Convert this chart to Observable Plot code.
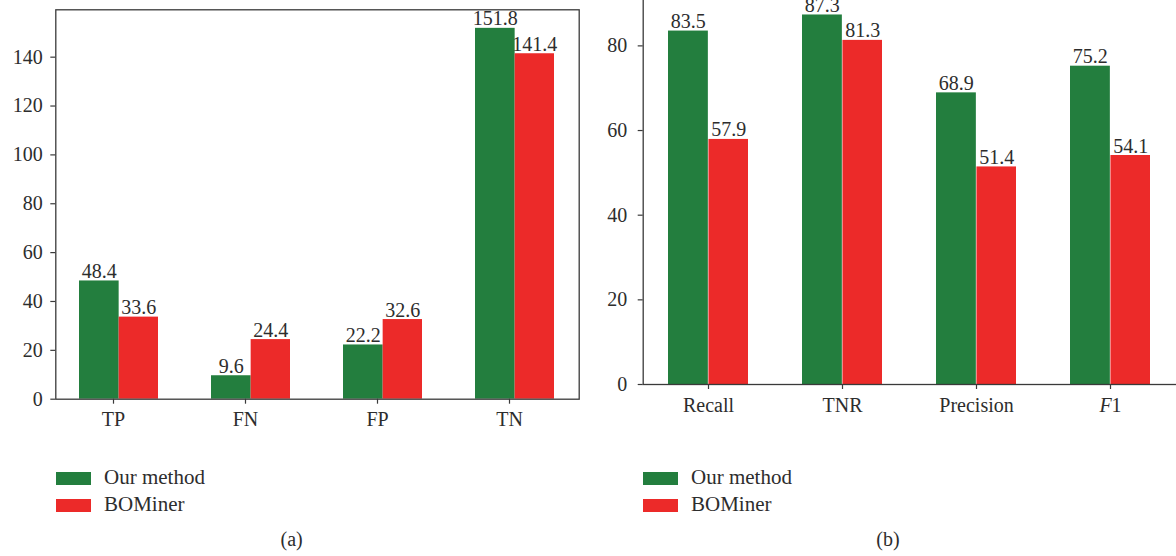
<!DOCTYPE html>
<html><head><meta charset="utf-8">
<script src="https://cdn.jsdelivr.net/npm/d3@7"></script>
<script src="https://cdn.jsdelivr.net/npm/@observablehq/plot@0.6"></script>
<style>
html,body{margin:0;padding:0;background:#fff;overflow:hidden;}
#root{position:relative;width:1176px;height:556px;overflow:hidden;font-family:"Liberation Serif",serif;color:#2d2d2d;}
.panel{position:absolute;}
.sw{position:absolute;width:35px;height:13px;}
.lt{position:absolute;font-size:21px;line-height:21px;white-space:nowrap;}
.cap{position:absolute;font-size:20px;line-height:20px;transform:translateX(-50%);}
</style></head><body><div id="root"></div>
<script>
const series = ["Our method", "BOMiner"];
const seriesColors = ["#237e3e", "#ec2a29"];
const catsA = ["TP", "FN", "FP", "TN"];
const ourA = [48.4, 9.6, 22.2, 151.8];
const bomA = [33.6, 24.4, 32.6, 141.4];
const ticksA = [0, 20, 40, 60, 80, 100, 120, 140];
const catsB = ["Recall", "TNR", "Precision", "F1"];
const ourB = [83.5, 87.3, 68.9, 75.2];
const bomB = [57.9, 81.3, 51.4, 54.1];
const ticksB = [0, 20, 40, 60, 80];
const captions = ["(a)", "(b)"];

function panel(o) {
  const rows = [];
  o.cats.forEach((c, i) => {
    rows.push({cat: c, series: series[0], value: o.our[i]});
    rows.push({cat: c, series: series[1], value: o.bom[i]});
  });
  const pi = 0.4, po = 0.18;
  const W = o.width - o.marginLeft - o.marginRight;
  const step = W / (o.cats.length - pi + 2 * po);
  const half = step * (1 - pi) / 2;
  const ymax = d3.max(rows, d => d.value) * 1.05;
  const r0 = rows.filter(d => d.series === series[0]);
  const r1 = rows.filter(d => d.series === series[1]);
  const ink = "#2d2d2d";
  const marks = [
    Plot.barY(r0, {x: "cat", y: "value", fill: seriesColors[0], insetRight: half - 0.3}),
    Plot.barY(r1, {x: "cat", y: "value", fill: seriesColors[1], insetLeft: half}),
    Plot.text(r0, {x: "cat", y: "value", text: d => d.value.toFixed(1), dx: -half / 2, dy: -3, lineAnchor: "bottom", fill: ink, fontSize: 20}),
    Plot.text(r1, {x: "cat", y: "value", text: d => d.value.toFixed(1), dx: half / 2, dy: -3, lineAnchor: "bottom", fill: ink, fontSize: 20}),
    Plot.axisY({ticks: o.ticks, tickSize: 5, tickPadding: o.tickPadY, label: null, fontSize: 20, stroke: "#3a3a3a", strokeWidth: 1.2}),
    Plot.axisX({tickSize: 5, tickPadding: 8, label: null, fontSize: 20, dx: o.xdx, stroke: "#3a3a3a", strokeWidth: 1.2}),
    Plot.frame({stroke: "#3a3a3a", strokeWidth: 1.3})
  ];
  const svg = Plot.plot({
    width: o.width, height: o.height,
    marginLeft: o.marginLeft, marginRight: o.marginRight, marginTop: o.marginTop, marginBottom: o.marginBottom,
    style: {fontFamily: "Liberation Serif, serif", fontSize: "20px", color: ink, background: "transparent"},
    x: {domain: o.cats, paddingInner: pi, paddingOuter: po},
    y: {domain: [0, ymax]},
    marks
  });
  d3.select(svg).selectAll("text").each(function() {
    if (this.textContent === "F1") {
      this.textContent = "";
      d3.select(this).append("tspan").attr("font-style", "italic").text("F");
      d3.select(this).append("tspan").text("1");
    }
  });
  return svg;
}

const root = document.getElementById("root");
const a = panel({cats: catsA, our: ourA, bom: bomA, ticks: ticksA, width: 600, height: 440,
  marginLeft: 55.3, marginRight: 21.3, marginTop: 9.3, marginBottom: 41.3, tickPadY: 8, xdx: -5.5});
a.classList.add("panel"); a.style.left = "0px"; a.style.top = "0px";
root.appendChild(a);
const b = panel({cats: catsB, our: ourB, bom: bomB, ticks: ticksB, width: 580, height: 440,
  marginLeft: 42.7, marginRight: 3.4, marginTop: 10, marginBottom: 42, tickPadY: 11, xdx: 0});
b.classList.add("panel"); b.style.left = "600px"; b.style.top = "-14px";
root.appendChild(b);

function legend(x) {
  series.forEach((s, i) => {
    const sw = document.createElement("div");
    sw.className = "sw"; sw.style.left = x + "px"; sw.style.top = (472 + i * 27) + "px";
    sw.style.background = seriesColors[i];
    root.appendChild(sw);
    const t = document.createElement("div");
    t.className = "lt"; t.textContent = s;
    t.style.left = (x + 48) + "px"; t.style.top = (467 + i * 27.4) + "px";
    root.appendChild(t);
  });
}
legend(56);
legend(643);
[[291.7, captions[0]], [888, captions[1]]].forEach(([x, s]) => {
  const c = document.createElement("div");
  c.className = "cap"; c.textContent = s; c.style.left = x + "px"; c.style.top = "529px";
  root.appendChild(c);
});
</script></body></html>
